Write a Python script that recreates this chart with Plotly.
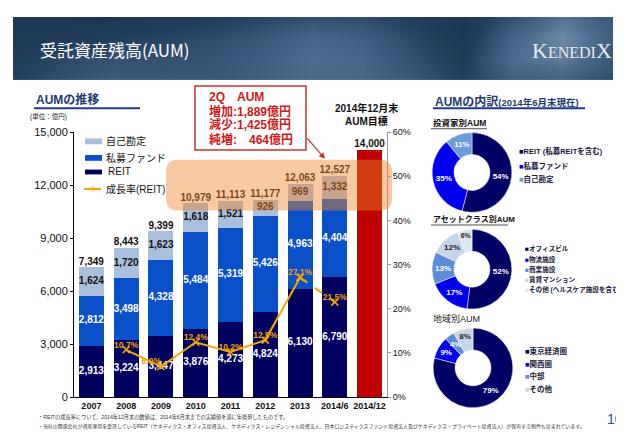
import math
import plotly.graph_objects as go

W, H = 624, 432
def fx(p): return p / W
def fy(p): return 1 - p / H

# ---------------- data ----------------
categories = ['2007', '2008', '2009', '2010', '2011', '2012', '2013', '2014/6', '2014/12']
bar_cats = ['2007', '2008', '2009', '2010', '2011', '2012', '2013', '2014/6']
reit = [2913, 3224, 3447, 3876, 4273, 4824, 6130, 6790]
private_fund = [2812, 3498, 4328, 5484, 5319, 5426, 4963, 4404]
own_account = [1624, 1720, 1623, 1618, 1521, 926, 969, 1332]
totals = [7349, 8443, 9399, 10979, 11113, 11177, 12063, 12527]
target_cat = ['2014/12']
target_val = [14000]
rate_cats = ['2008', '2009', '2010', '2011', '2012', '2013', '2014/6']
rate_vals = [10.7, 6.9, 12.4, 10.2, 12.9, 27.1, 21.5]
left_ticks = [0, 3000, 6000, 9000, 12000, 15000]
right_ticks = [0, 10, 20, 30, 40, 50, 60]

investor_labels = ['REIT (私募REITを含む)', '私募ファンド', '自己勘定']
investor_vals = [54, 35, 11]
asset_labels = ['オフィスビル', '物流施設', '商業施設', '賃貸マンション', 'その他 (ヘルスケア施設を含む)']
asset_vals = [52, 17, 13, 12, 6]
region_labels = ['東京経済圏', '関西圏', '中部', 'その他']
region_vals = [79, 9, 4, 8]

# ---------------- styles ----------------
NAVY = '#00005E'
BLUE = '#0A50C8'
LIGHT = '#A9BFDE'
RED = '#C00000'
GOLD = '#F5AA00'
P_NAVY = '#000066'
P_BLUE = '#0000EE'
P_MID = '#5B8ED6'
P_LIGHT = '#C5D5EA'
P_LIGHTER = '#DDE5F0'
FONT = "Arial, 'Liberation Sans', 'Noto Sans CJK JP', sans-serif"
JFONT = "'Noto Sans CJK JP', Arial, sans-serif"

fig = go.Figure()

# ---------------- banner (decorative gradient) ----------------
ban_x = [5, 55, 105, 155, 205, 255, 305, 355, 405, 455, 505, 555, 605]
ban_y = [3, 25, 46, 68]
ban_z = [
    [0.28, 0.26, 0.25, 0.30, 0.34, 0.38, 0.44, 0.42, 0.34, 0.26, 0.45, 0.62, 0.48],
    [0.30, 0.33, 0.35, 0.38, 0.42, 0.48, 0.56, 0.52, 0.40, 0.28, 0.55, 0.72, 0.52],
    [0.33, 0.40, 0.45, 0.44, 0.46, 0.52, 0.60, 0.56, 0.44, 0.32, 0.60, 0.66, 0.48],
    [0.36, 0.44, 0.50, 0.48, 0.48, 0.52, 0.58, 0.56, 0.48, 0.36, 0.52, 0.54, 0.42],
]
fig.add_trace(go.Heatmap(x=ban_x, y=ban_y, z=ban_z, xaxis='x3', yaxis='y3',
                         zmin=0, zmax=1, zsmooth='best', showscale=False, hoverinfo='skip',
                         colorscale=[[0, '#0C1C30'], [0.35, '#223E5E'], [0.6, '#4E6E90'], [1, '#BCCBDA']]))

# ---------------- stacked bars ----------------
fig.add_bar(x=bar_cats, y=reit, marker=dict(color=NAVY, line_width=0), name='REIT')
fig.add_bar(x=bar_cats, y=private_fund, marker=dict(color=BLUE, line_width=0), name='私募ファンド')
fig.add_bar(x=bar_cats, y=own_account, marker=dict(color=LIGHT, line_width=0), name='自己勘定')
fig.add_bar(x=target_cat, y=target_val, marker=dict(color=RED, line_width=0), name='目標')

fmt = lambda v: f'{v:,}'
reit_mid = [r / 2 for r in reit]
pf_mid = [r + p / 2 for r, p in zip(reit, private_fund)]
own_mid = [r + p + o / 2 for r, p, o in zip(reit, private_fund, own_account)]
fig.add_scatter(x=bar_cats, y=reit_mid, mode='text', text=[fmt(v) for v in reit],
                textfont=dict(color='white', size=10, weight='bold', family=FONT), hoverinfo='skip')
fig.add_scatter(x=bar_cats, y=pf_mid, mode='text', text=[fmt(v) for v in private_fund],
                textfont=dict(color='white', size=10, weight='bold', family=FONT), hoverinfo='skip')
fig.add_scatter(x=bar_cats, y=own_mid, mode='text', text=[fmt(v) for v in own_account],
                textfont=dict(color='#111111', size=10, weight='bold', family=FONT), hoverinfo='skip')
fig.add_scatter(x=bar_cats + target_cat, y=totals + target_val, mode='text',
                text=[fmt(v) for v in totals + target_val], textposition='top center',
                textfont=dict(color='#111111', size=10, weight='bold', family=FONT), hoverinfo='skip')

# ---------------- growth rate line ----------------
mk = dict(symbol='x-thin-open', size=7, line=dict(color=GOLD, width=1.5), color=GOLD)
fig.add_scatter(x=rate_cats[:6], y=rate_vals[:6], yaxis='y2', mode='lines+markers',
                line=dict(color=GOLD, width=2), marker=mk, hoverinfo='skip')
fig.add_scatter(x=rate_cats[5:], y=rate_vals[5:], yaxis='y2', mode='lines+markers',
                line=dict(color=GOLD, width=2, dash='dash'), marker=mk, hoverinfo='skip')
rate_pos = ['top center', 'top left', 'top center', 'top center', 'top center', 'top center', 'top center']
fig.add_scatter(x=rate_cats, y=rate_vals, yaxis='y2', mode='text',
                text=[f'{v}%' for v in rate_vals], textposition=rate_pos,
                textfont=dict(color='#F0A000', size=8.5, weight='bold', family=FONT), hoverinfo='skip')

# ---------------- donuts ----------------
HOLE = 0.45
anns = []
def T(x, y, text, size=10, color='black', xanchor='left', yanchor='middle', bold=False, family=FONT):
    anns.append(dict(x=fx(x), y=fy(y), xref='paper', yref='paper',
                     text=f'<b>{text}</b>' if bold else text, showarrow=False,
                     xanchor=xanchor, yanchor=yanchor,
                     font=dict(size=size, color=color, family=family)))

def donut(vals, labels, colors, tcolors, x0, y0, d, manual=()):
    tpos = ['none' if i in manual else 'inside' for i in range(len(vals))]
    fig.add_pie(values=vals, labels=labels, sort=False, direction='clockwise', rotation=0,
                hole=HOLE, domain=dict(x=[fx(x0), fx(x0 + d)], y=[fy(y0 + d), fy(y0)]),
                marker=dict(colors=colors, line=dict(color='white', width=0.5)),
                text=[f'{v}%' for v in vals], textinfo='text', textposition=tpos,
                insidetextorientation='horizontal',
                textfont=dict(size=8, color=tcolors, weight='bold', family=FONT),
                showlegend=False, hoverinfo='skip')
    # labels for slices too thin for automatic inside text
    tot = sum(vals)
    cx, cy, r = x0 + d / 2, y0 + d / 2, d / 2
    for i in manual:
        mid = (sum(vals[:i]) + vals[i] / 2) / tot * 2 * math.pi
        rr = r * (1 + HOLE) / 2
        T(cx + rr * math.sin(mid), cy - rr * math.cos(mid), f'{vals[i]}%', 7.5, tcolors[i],
          xanchor='center', bold=True)

donut(investor_vals, investor_labels, [P_NAVY, P_BLUE, '#6A9BDB'],
      ['white', 'white', 'white'], 423, 122, 82)
donut(asset_vals, asset_labels, [P_NAVY, P_BLUE, P_MID, P_LIGHT, P_LIGHTER],
      ['white', 'white', 'white', '#222222', '#222222'], 423, 221.5, 82)
donut(region_vals, region_labels, [P_NAVY, P_BLUE, P_MID, P_LIGHT],
      ['white', 'white', 'white', '#222222'], 424, 323, 82, manual=(2,))

# ---------------- shapes ----------------
shapes = []
def line(x0, y0, x1, y1, color, width=1, dash='solid'):
    shapes.append(dict(type='line', xref='paper', yref='paper', x0=fx(x0), y0=fy(y0),
                       x1=fx(x1), y1=fy(y1), line=dict(color=color, width=width, dash=dash)))
def rect(x0, y0, x1, y1, fill, lc=None, lw=0, layer='above'):
    shapes.append(dict(type='rect', xref='paper', yref='paper', x0=fx(x0), y0=fy(y1),
                       x1=fx(x1), y1=fy(y0), fillcolor=fill, layer=layer,
                       line=dict(color=lc or fill, width=lw)))
def rrect(x0, y0, x1, y1, r, fill):
    X, Y = fx, fy
    p = (f"M {X(x0+r)},{Y(y0)} L {X(x1-r)},{Y(y0)} Q {X(x1)},{Y(y0)} {X(x1)},{Y(y0+r)} "
         f"L {X(x1)},{Y(y1-r)} Q {X(x1)},{Y(y1)} {X(x1-r)},{Y(y1)} L {X(x0+r)},{Y(y1)} "
         f"Q {X(x0)},{Y(y1)} {X(x0)},{Y(y1-r)} L {X(x0)},{Y(y0+r)} Q {X(x0)},{Y(y0)} {X(x0+r)},{Y(y0)} Z")
    shapes.append(dict(type='path', xref='paper', yref='paper', path=p, fillcolor=fill,
                       line=dict(width=0), layer='above'))

# highlight band
rrect(158, 150, 384, 202, 12, 'rgba(238,135,45,0.45)')
# callout box
rect(187, 74, 298, 140, 'white', lc='#C8302A', lw=1.5)
# headings underline
line(26, 97, 132, 97, '#1F3C8C', 2)
line(425, 97, 577, 97, '#1F3C8C', 2)
line(423, 118, 479, 118, '#222222', 0.8)
line(423, 217, 500, 217, '#222222', 0.8)
# main legend swatches
rect(77, 128, 94, 134, LIGHT)
rect(77, 145, 94, 151, BLUE)
rect(77, 160, 94, 165, NAVY)
line(76, 180, 93, 180, GOLD, 2)

# ---------------- annotations ----------------
# banner title
T(30, 37, '受託資産残高(AUM)', 17, 'white', family=JFONT)
T(606, 38, "<span style='font-size:22px'>K</span>ENEDI<span style='font-size:22px'>X</span>", 16,
  '#E6ECF2', xanchor='right', family="'Liberation Serif', 'DejaVu Serif', serif")

# section headings
T(26, 88, 'AUMの推移', 12, '#1F3A6E', bold=True)
T(20, 105, '(単位：億円)', 6.5, '#222222')
T(425, 90, "AUMの内訳<span style='font-size:9.5px'>(2014年6月末現在)</span>", 12, '#1F3A6E', bold=True)

# main legend
T(96, 131, '自己勘定', 10, '#111111')
T(96, 148, '私募ファンド', 10, '#111111')
T(98, 162, 'REIT', 10, '#111111')
T(84.5, 180, '✳', 9, GOLD, xanchor='center')
T(96, 180, '成長率(REIT)', 10, '#111111')

# callout
red = '#D01818'
T(199, 85, '2Q　AUM', 12, red, bold=True)
T(199, 100, '増加:1,889億円', 12, red, bold=True)
T(199, 114, '減少:1,425億円', 12, red, bold=True)
T(199, 129, '純増:\u3000464億円', 12, red, bold=True)
anns.append(dict(x=fx(317), y=fy(149), xref='paper', yref='paper', ax=-19, ay=-22,
                 text='', showarrow=True, arrowhead=2, arrowsize=1, arrowwidth=1.2,
                 arrowcolor='#C8302A'))
T(358, 97, '2014年12月末', 10, '#111111', xanchor='center', bold=True)
T(358, 110, 'AUM目標', 10, '#111111', xanchor='center', bold=True)

# donut titles
T(423, 112, '投資家別AUM', 8.5, '#111111', bold=True)
T(423, 211, 'アセットクラス別AUM', 8, '#111111', bold=True)
T(423, 313, '地域別AUM', 9, '#222222')

def legend(items, colors, x, ys, size=8):
    for it, c, y in zip(items, colors, ys):
        T(x, y, f"<span style='color:{c}'>■</span>{it}", size, '#1A1A3A', bold=True)

legend(investor_labels, [P_NAVY, P_BLUE, '#6A9BDB'], 509, [141, 156, 170], 7.5)
legend(asset_labels, [P_NAVY, P_BLUE, P_MID, P_LIGHT, P_LIGHTER], 515, [241, 252.5, 263, 273.5, 283], 6.6)
legend(region_labels, [P_NAVY, P_BLUE, P_MID, P_LIGHT], 515, [347, 360, 372, 386], 7.5)

# footnotes
T(28, 414, '・REITの成長率について、2014年12月末の数値は、2014年6月末までの実績値を基に年換算したものです。', 5.2, '#333333')
T(28, 424, '・当社の関係会社が資産運用を受託しているREIT（ケネディクス・オフィス投資法人、ケネディクス・レジデンシャル投資法人、'
           '日本ロジスティクスファンド投資法人及びケネディクス・プライベート投資法人）が保有する物件も含まれています。', 4.95, '#333333')
T(617, 417, '10', 14, '#1F4E9C', xanchor='right')

# ---------------- layout ----------------
fig.update_layout(
    width=W, height=H, margin=dict(l=0, r=0, t=0, b=0),
    paper_bgcolor='white', plot_bgcolor='white',
    barmode='stack', bargap=0.28, showlegend=False,
    font=dict(family=FONT, color='#111111'),
    xaxis=dict(domain=[fx(66), fx(379)], type='category', categoryorder='array',
               categoryarray=categories, showline=True, linecolor='black', linewidth=1,
               ticks='', tickfont=dict(size=9, color='#111111', weight='bold'),
               showgrid=False, zeroline=False, fixedrange=True),
    yaxis=dict(domain=[fy(394), fy(121.5)], range=[0, 15000], tickvals=left_ticks,
               tickformat=',', showline=True, linecolor='black', linewidth=1,
               ticks='outside', ticklen=3, tickcolor='black',
               tickfont=dict(size=11, color='#111111'), showgrid=False, zeroline=False),
    yaxis2=dict(overlaying='y', side='right', anchor='x', range=[0, 60], tickvals=right_ticks,
                ticktext=[f'{v}%' for v in right_ticks], showline=True, linecolor='#999999',
                linewidth=1, ticks='outside', ticklen=3, tickcolor='#999999',
                tickfont=dict(size=9, color='#111111'), showgrid=False, zeroline=False),
    xaxis3=dict(domain=[fx(5), fx(605)], range=[5, 605], visible=False, anchor='y3'),
    yaxis3=dict(domain=[fy(68), fy(3)], range=[68, 3], visible=False, anchor='x3'),
    shapes=shapes, annotations=anns,
)

fig.write_html('out.html')
